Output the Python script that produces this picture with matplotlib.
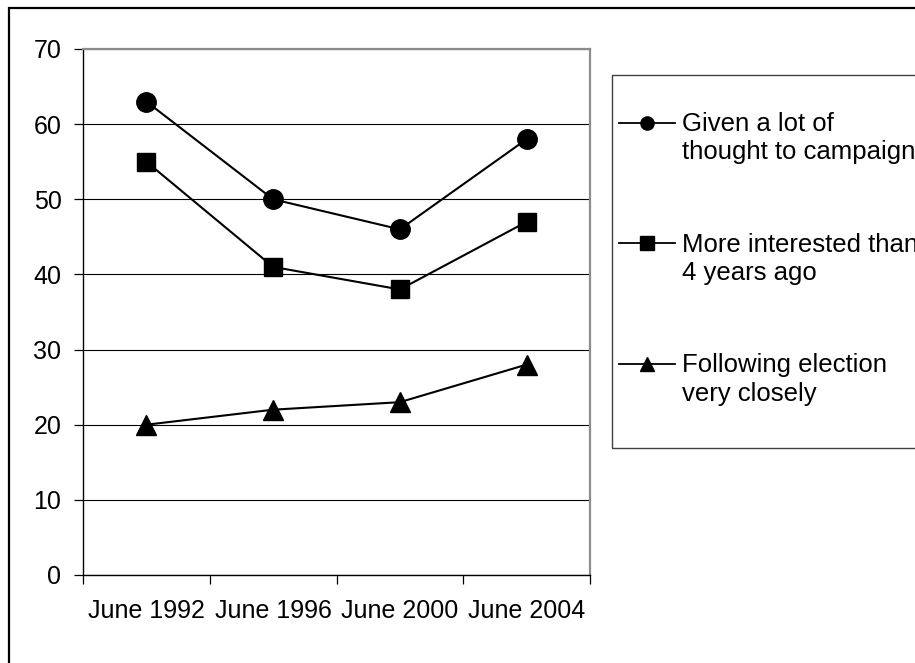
import matplotlib.pyplot as plt
import numpy as np
from matplotlib.lines import Line2D
from matplotlib.patches import Rectangle

plt.rcParams['font.family'] = ['Liberation Sans', 'DejaVu Sans']

years = ['June 1992', 'June 1996', 'June 2000', 'June 2004']
thought = [63, 50, 46, 58]
interested = [55, 41, 38, 47]
following = [20, 22, 23, 28]
labels = ['Given a lot of\nthought to campaign',
          'More interested than\n4 years ago',
          'Following election\nvery closely']

W, H = 915, 663
fig = plt.figure(figsize=(W / 100, H / 100), dpi=100)

# outer chart border (right and bottom edges fall outside the picture)
fig.add_artist(Rectangle((9 / W, -0.1), 1.2, 1.1 - 8 / H, transform=fig.transFigure,
                         fill=False, edgecolor='black', linewidth=1.6, clip_on=False))

ax = fig.add_axes([83 / W, (H - 575) / H, 507 / W, 526 / H])

x = np.arange(len(years)) + 0.5
styles = [('o', 14), ('s', 13.5), ('^', 15)]
for vals, (m, ms) in zip([thought, interested, following], styles):
    ax.plot(x, vals, color='black', linewidth=1.5, marker=m, markersize=ms,
            markerfacecolor='black', markeredgecolor='black', clip_on=False, zorder=3)

ax.set_xlim(0, len(years))
ax.set_ylim(0, 70)
ax.set_yticks(np.arange(0, 71, 10))
ax.yaxis.grid(True, color='black', linewidth=0.8)
ax.set_axisbelow(True)

ax.set_xticks(np.arange(len(years) + 1))
ax.set_xticklabels([])
ax.set_xticks(x, years, minor=True)
ax.tick_params(axis='x', which='major', direction='out', length=6.5, width=0.9, color='black')
ax.tick_params(axis='x', which='minor', length=0, pad=17, labelsize=18)
ax.tick_params(axis='y', direction='out', length=6.5, width=0.9, pad=9, labelsize=18)

for s in ['left', 'bottom']:
    ax.spines[s].set_color('black')
    ax.spines[s].set_linewidth(1.0)
for s in ['top', 'right']:
    ax.spines[s].set_color('#8c8c8c')
    ax.spines[s].set_linewidth(1.6)

# legend box, drawn by hand like the Excel original
fig.add_artist(Rectangle((612 / W, (H - 448) / H), 0.5, (448 - 75) / H,
                         transform=fig.transFigure, fill=False,
                         edgecolor='#404040', linewidth=1.0, clip_on=False))
entry_y = [122.5, 243, 363.5]
leg_ms = [9.5, 9.5, 10.5]
for lab, (m, _), ms, yy in zip(labels, styles, leg_ms, entry_y):
    yf = (H - yy) / H
    fig.add_artist(Line2D([619 / W, 675 / W], [yf, yf], transform=fig.transFigure,
                          color='black', linewidth=1.3))
    fig.add_artist(Line2D([647 / W], [yf], transform=fig.transFigure,
                          color='black', marker=m, markersize=ms, linestyle='none'))
    fig.text(682 / W, (H - yy - 37) / H, lab, fontsize=18.5, va='baseline',
             ha='left', linespacing=1.22)

fig.savefig('out.png', dpi=100)
